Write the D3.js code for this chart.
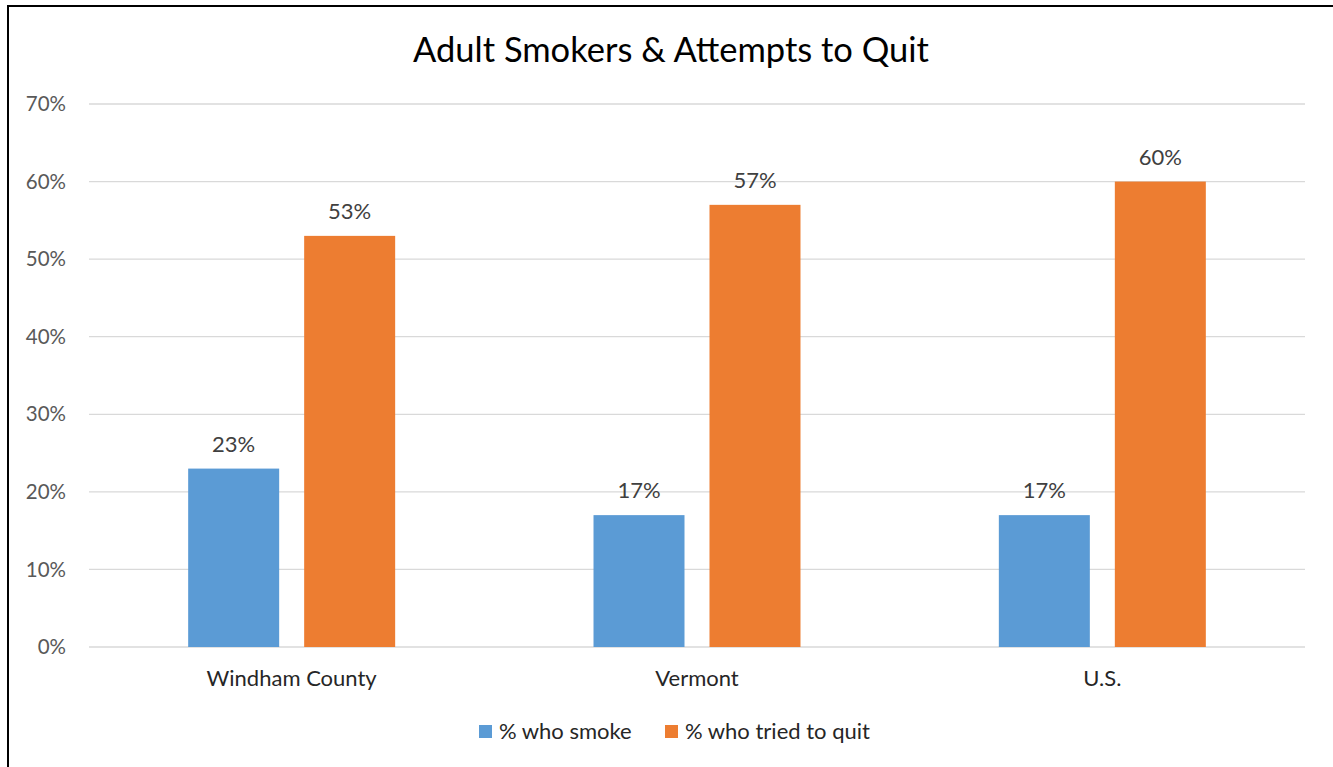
<!DOCTYPE html>
<html><head><meta charset="utf-8">
<script src="https://cdn.jsdelivr.net/npm/d3@7"></script>
<style>body{margin:0;background:#fff}svg{display:block}</style>
</head><body>
<svg id="c" width="1333" height="767"></svg>
<script>
const categories = ["Windham County", "Vermont", "U.S."];
const seriesNames = ["% who smoke", "% who tried to quit"];
const smoke = [0.23, 0.17, 0.17];
const tried = [0.53, 0.57, 0.60];
const yTicks = [0, 0.1, 0.2, 0.3, 0.4, 0.5, 0.6, 0.7];
const colors = ["#5b9bd5", "#ed7d31"];

(function () {
const svg = d3.select("#c");
const font = "Lato, sans-serif";
svg.append("rect").attr("x", 8).attr("y", 6).attr("width", 1340).attr("height", 800)
  .attr("fill", "none").attr("stroke", "#000").attr("stroke-width", 2);

const pl = 89, pr = 1305, pt = 104, pb = 647;
const x = d3.scaleBand().domain(categories).range([pl, pr]);
const y = d3.scaleLinear().domain([0, 0.7]).range([pb, pt]);
const x1 = d3.scaleBand().domain(seriesNames).range([0, x.bandwidth()]).paddingInner(0.2155).paddingOuter(0.855);

svg.append("g").selectAll("line").data(yTicks).join("line")
  .attr("x1", pl).attr("x2", pr).attr("y1", d => y(d)).attr("y2", d => y(d))
  .attr("stroke", "#d9d9d9").attr("stroke-width", 1.3);

svg.append("g").selectAll("text").data(yTicks).join("text")
  .attr("x", 66).attr("y", d => y(d)).attr("dy", "0.35em").attr("text-anchor", "end")
  .attr("font-family", font).attr("font-size", 20.5).attr("fill", "#595959")
  .text(d3.format(".0%"));

const data = categories.map((c, i) => ({c, vals: [smoke[i], tried[i]]}));
const g = svg.append("g").selectAll("g").data(data).join("g")
  .attr("transform", d => `translate(${x(d.c)},0)`);
g.selectAll("rect").data(d => d.vals.map((v, j) => ({v, s: seriesNames[j], j}))).join("rect")
  .attr("x", d => x1(d.s)).attr("width", x1.bandwidth())
  .attr("y", d => y(d.v)).attr("height", d => pb - y(d.v))
  .attr("fill", d => colors[d.j]);
g.selectAll("text").data(d => d.vals.map((v, j) => ({v, s: seriesNames[j], j}))).join("text")
  .attr("x", d => x1(d.s) + x1.bandwidth() / 2).attr("y", d => y(d.v) - 17)
  .attr("text-anchor", "middle").attr("font-family", font).attr("font-size", 22).attr("fill", "#404040")
  .text(d => d3.format(".0%")(d.v));

svg.append("g").selectAll("text").data(categories).join("text")
  .attr("x", d => x(d) + x.bandwidth() / 2).attr("y", 686).attr("text-anchor", "middle")
  .attr("font-family", font).attr("font-size", 22).attr("fill", "#262626").text(d => d);

svg.append("text").attr("x", 671).attr("y", 62).attr("text-anchor", "middle")
  .attr("font-family", font).attr("font-size", 34.5).attr("fill", "#000")
  .text("Adult Smokers & Attempts to Quit");

const legX = [479, 665];
const lg = svg.append("g").selectAll("g").data(seriesNames).join("g")
  .attr("transform", (d, i) => `translate(${legX[i]},725)`);
lg.append("rect").attr("width", 13).attr("height", 13).attr("fill", (d, i) => colors[i]);
lg.append("text").attr("x", 20).attr("y", 14).attr("font-family", font).attr("font-size", 22)
  .attr("fill", "#262626").text(d => d);
})();
</script>
</body></html>
